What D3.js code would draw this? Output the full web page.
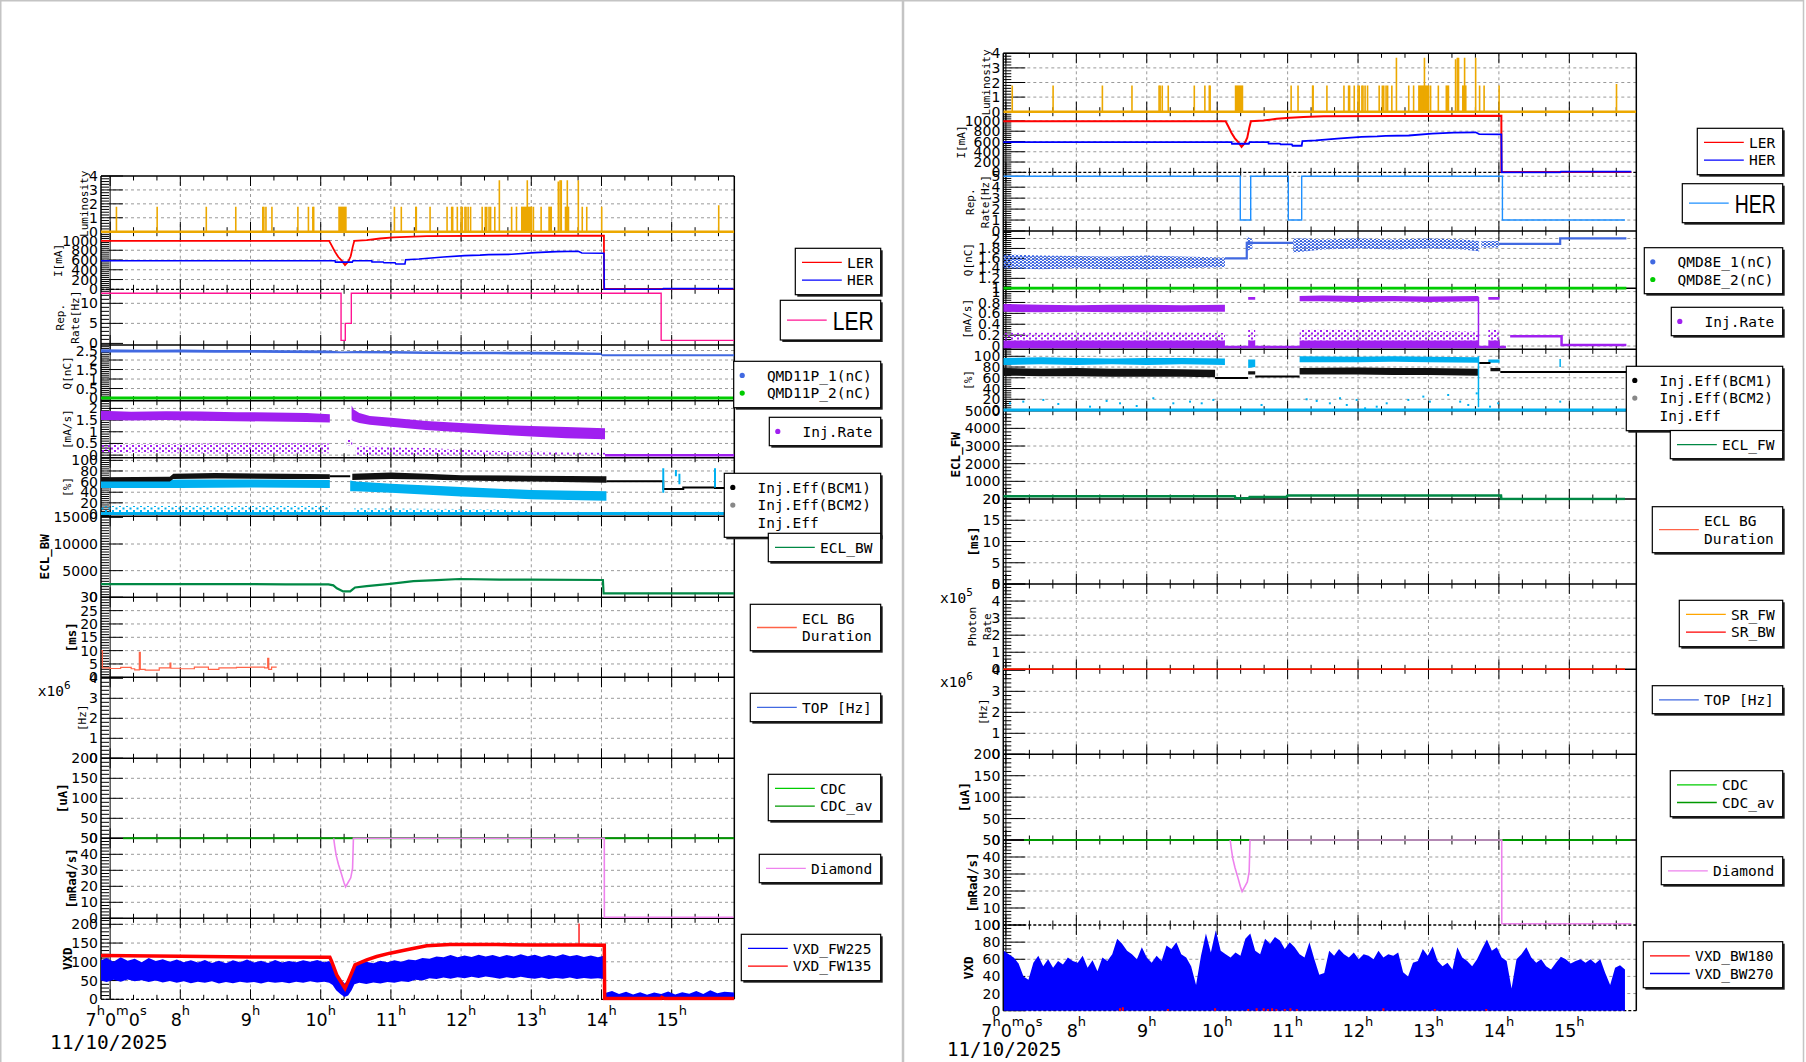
<!DOCTYPE html>
<html><head><meta charset="utf-8">
<script src="https://cdn.jsdelivr.net/npm/d3@7"></script>
<style>
body{margin:0;background:#fff}
svg{display:block}
.grid{stroke:#9a9a9a;stroke-dasharray:3 3;stroke-width:1;fill:none}
.tl{font-family:"DejaVu Sans",sans-serif;font-size:14px;fill:#000}
.tt{font-family:"DejaVu Sans Mono",monospace;font-size:11px;fill:#000}
.ttb{font-family:"DejaVu Sans Mono",monospace;font-size:12.5px;font-weight:bold;fill:#000}
.lg{font-family:"DejaVu Sans Mono",monospace;font-size:14.5px;fill:#000}
</style></head>
<body><svg id="c" width="1806" height="1062"></svg>
<script>
// ===================== DATA (time in decimal hours, 11/10/2025) =====================
const dateLabel = "11/10/2025";
const hourTicks = [7, 8, 9, 10, 11, 12, 13, 14, 15];

// Luminosity (shared by both canvases)
const lumSpikes = [[7.09,1.8],[7.67,1.8],[8.37,1.8],[8.79,1.8],[9.175,1.8],[9.19,1.8],[9.22,1.8],[9.305,1.8],[9.675,1.8],[9.825,1.8],[9.888,1.8],[9.9,1.8],
 [11.05,1.8],[11.148,1.8],[11.355,1.8],[11.362,1.8],[11.558,1.8],[11.8,1.8],[11.866,1.8],[11.88,1.8],[11.946,1.8],[12.0,1.8],[12.017,1.8],[12.055,1.8],[12.07,1.8],[12.1,1.8],[12.135,1.8],
 [12.3,1.8],[12.345,1.8],[12.365,1.8],[12.398,1.8],[12.42,1.8],[12.48,1.8],[12.545,3.7],[12.72,1.8],[12.943,3.7],[13.03,1.8],[13.14,1.8],[13.385,3.6],[13.41,3.7],[13.427,3.7],
 [13.513,3.7],[13.67,3.7],[13.726,1.8],[13.79,1.8],[14.003,1.8],[15.67,1.9]];
const lumBlocks = [[10.25,10.37,1.8],[12.778,12.8,1.8],[12.853,13.014,1.8],[13.242,13.295,1.8],[13.476,13.541,1.8]];

// Beam currents [mA]
const lerCurrent = [[6.87,993],[10.12,993],[10.157,896],[10.204,766],[10.251,662],[10.299,586],[10.346,497],[10.393,572],[10.427,676],[10.456,869],[10.479,993],
 [10.655,1007],[10.845,1041],[11.034,1062],[11.225,1076],[11.51,1090],[12.55,1097],[14.035,1100],[14.036,6],[14.9,6],[15.88,6]];
const herCurrent = [[6.87,586],[10.204,586],[10.21,556],[10.45,556],[10.46,586],[10.727,586],[10.73,560],[10.89,560],[10.9,545],[11.06,545],[11.07,517],[11.2,517],
 [11.21,607],[11.4,621],[11.75,662],[12.05,690],[12.27,700],[12.39,710],[12.72,717],[13.05,752],[13.36,772],[13.67,779],[13.72,745],[14.035,740],[14.04,0],[14.87,0],[14.88,14],[15.88,14]];

// Injection repetition rate [Hz]
const repLER = [[6.87,12.5],[10.29,0.75],[10.35,5],[10.436,12.5],[14.85,0.75],[15.892,0.75]];
const repHER = [[6.963,5],[10.328,1],[10.476,5],[11.01,1],[11.2,5],[14.05,1],[15.79,1]];

// Bunch charge [nC]  (bands = [t, low, high])
const qmd11p1Band = [[6.87,2.4,2.56],[7.5,2.39,2.54],[8.0,2.4,2.55],[8.5,2.38,2.53],[9.0,2.38,2.53],[9.5,2.37,2.52],[10.1,2.36,2.5],[10.3,2.36,2.45],[10.5,2.35,2.48],
 [11.0,2.34,2.47],[11.5,2.32,2.45],[12.0,2.3,2.44],[12.5,2.3,2.43],[13.0,2.29,2.44],[13.5,2.28,2.42],[14.0,2.26,2.38]];
const qmd11p1Tail = [[14.0,2.25],[15.892,2.25]];
const qmd11p2 = [[6.87,0],[15.892,0]];
const qmd8e1Band = [
 [[6.963,1.40,1.68],[7.5,1.38,1.66],[8.0,1.40,1.65],[8.5,1.38,1.64],[9.0,1.38,1.66],[9.5,1.40,1.64],[10.11,1.42,1.62]],
 [[10.42,1.75,2.04],[10.5,1.8,1.98]],
 [[11.08,1.72,2.0],[11.24,1.74,2.0],[11.5,1.78,1.98],[12.0,1.8,2.0],[12.5,1.78,1.98],[13.0,1.8,2.0],[13.5,1.78,1.98],[13.72,1.74,1.95]],
 [[13.75,1.82,1.95],[14.0,1.82,1.95]]];
const qmd8e1Line = [[10.11,1.6],[10.42,1.91],[11.08,1.91]];
const qmd8e1Tail = [[14.0,1.89],[14.87,2.0],[15.81,2.0]];
const qmd8e2 = [[6.963,0],[15.81,0]];

// Injection rate [mA/s]
const injRateL_dense = [
 [[6.87,1.5,1.9],[7.3,1.48,1.86],[7.8,1.5,1.88],[8.3,1.47,1.87],[8.8,1.45,1.84],[9.3,1.44,1.83],[9.8,1.42,1.8],[10.13,1.4,1.75]],
 [[10.44,1.5,2.12],[10.47,1.45,1.95],[10.55,1.38,1.8],[10.7,1.3,1.68],[11.0,1.22,1.6],[11.5,1.08,1.46],[12.0,0.98,1.38],[12.5,0.88,1.3],[13.0,0.8,1.25],[13.5,0.72,1.2],[14.05,0.68,1.15]]];
const injRateL_sparse = [
 [[6.87,0.1,0.45],[8.0,0.08,0.48],[9.0,0.06,0.52],[10.13,0.08,0.5]],
 [[10.37,0.42,0.66],[10.45,0.42,0.66]],
 [[10.5,0.0,0.38],[11.5,0.0,0.3],[12.5,0.0,0.18],[14.05,0.0,0.1]]];
const injRateL_tail = [[14.05,0.0],[15.892,0.0]];
const injRateR_upper = [
 [[6.963,0.63,0.77],[7.5,0.62,0.76],[8.0,0.63,0.75],[8.5,0.62,0.76],[9.0,0.62,0.76],[9.5,0.63,0.75],[10.11,0.63,0.76]],
 [[10.44,0.85,0.9],[10.54,0.85,0.9]],
 [[11.17,0.82,0.92],[11.5,0.82,0.93],[12.0,0.81,0.92],[12.5,0.82,0.92],[13.0,0.81,0.91],[13.71,0.82,0.92]],
 [[13.85,0.85,0.9],[14.01,0.85,0.9]]];
const injRateR_dense = [[[6.963,0,0.1],[10.11,0,0.1]],[[10.44,0,0.1],[10.54,0,0.1]],[[11.17,0,0.1],[13.71,0,0.1]],[[13.85,0,0.1],[14.01,0,0.1]]];
const injRateR_sparse = [[[6.963,0.1,0.24],[8.0,0.1,0.25],[9.0,0.1,0.26],[10.11,0.1,0.24]],[[10.44,0.1,0.3],[10.54,0.1,0.3]],
 [[11.17,0.1,0.3],[12.0,0.1,0.3],[13.0,0.1,0.28],[13.71,0.1,0.26]],[[13.85,0.1,0.3],[14.01,0.1,0.3]]];
const injRateR_zero = [[6.963,-0.02],[14.1,-0.02]];
const injRateR_tail = [[14.16,0.18],[14.89,0.02],[15.81,0.02]];

// Injection efficiency [%]
const effBCM1L = [[[6.87,60,68],[7.85,60,69],[7.9,65,75],[8.5,66,76],[9.5,65,75],[10.13,65,74]],
 [[10.45,63,75],[11.0,65,77],[11.5,64,75],[12.0,62,72],[13.0,60,71],[14.07,58,70]]];
const effBCM1L_lines = [[[10.13,70],[10.42,70]]];
const effBCM1L_tail = [[14.07,60.5],[14.88,46],[15.165,49],[15.617,48],[15.892,48]];
const effBCM2L = [[[6.87,48,62],[8.0,48,64],[9.0,49,64],[10.13,48,63]],
 [[10.42,42,62],[10.5,42,60],[11.0,39,56],[12.0,32,50],[13.0,27,44],[14.07,24,42]]];
const effBCM2L_low = [[[6.87,2,14],[10.13,2,14]],[[10.48,1,10],[12.5,1,8],[13.0,1,4]]];
const effSpikesL = [[14.88,39,85],[15.06,70,82],[15.11,55,75],[15.617,49,85]];
const effZeroL = [[6.87,0],[15.892,0]];
const effBCM2R = [[[6.963,84,97],[7.5,85,98],[8.0,84,97],[8.5,85,96],[9.0,84,97],[9.5,85,97],[10.11,84,96]],[[10.44,78,94],[10.54,80,94]],
 [[11.17,89,100],[12.0,89,99],[12.5,90,100],[13.0,89,99],[13.71,88,98]],[[13.85,88,94],[14.01,88,94]]];
const effBCM1R = [[[6.963,64,78],[7.5,63,77],[8.0,63,78],[8.5,62,77],[9.0,62,77],[9.5,62,76],[9.97,61,75]],[[10.44,66,72],[10.54,66,72]],
 [[11.17,66,78],[12.0,66,79],[12.5,65,78],[13.0,65,78],[13.71,64,77]],[[13.88,72,78],[14.02,72,78]]];
const effBCM1R_lines = [[[9.97,59.4],[10.44,59.4]],[[10.54,62.5],[11.17,62.5]],[[13.72,87.5],[13.88,87.5]],[[14.02,70.6],[15.81,70.6]]];
const effBCM2R_dots = [[7.058,12.5],[7.247,15.6],[7.531,18.75],[7.744,11.25],[8.194,6.25],[8.43,16.9],[8.62,12.5],[8.857,7.5],[9.093,21.9],[9.377,12.5],
 [9.614,15.6],[9.78,12.5],[9.945,18.75],[10.63,9.4],[11.27,20],[11.413,16.9],[11.6,12.5],[11.744,21.9],[11.84,9.4],[11.98,18.75],[12.1,3.1],[12.265,6.25],
 [12.407,12.5],[12.714,18.75],[12.927,25],[13.02,15.6],[13.28,28],[13.45,15.6],[13.565,9.4],[13.685,31],[13.874,6.25],[13.99,12.5],[14.87,15.6]];
const effSpikesR = [[13.71,5,100],[14.87,80,95]];
const effZeroR = [[6.963,0],[15.81,0]];

// ECL
const eclBW = [[6.87,2480],[8.0,2480],[9.0,2460],[9.5,2430],[10.11,2420],[10.18,2240],[10.23,1700],[10.32,1100],[10.42,1100],[10.455,1500],[10.49,1850],
 [10.655,2100],[10.987,2530],[11.32,3040],[11.65,3240],[11.98,3430],[12.55,3330],[13.0,3300],[14.02,3250],[14.03,720],[15.892,720]];
const eclFW = [[6.963,150],[8.0,160],[9.0,150],[10.25,150],[10.26,40],[10.45,40],[10.46,118],[10.98,118],[11.0,196],[14.03,196],[14.035,5],[15.79,5]];
const eclDurL = [[6.875,10],[6.89,3.5],[7.0,3.3],[7.15,3.7],[7.3,3.2],[7.35,2.8],[7.416,9.4],[7.43,3.0],[7.5,2.7],[7.7,3.5],[7.853,5.3],[7.865,3.4],
 [8.0,3.2],[8.2,3.8],[8.4,3.0],[8.55,3.5],[8.8,3.7],[9.0,3.8],[9.2,3.5],[9.245,7.1],[9.26,3.0],[9.3,3.8],[9.373,3.8]];

// SR photon rate, CDC, Diamond
const srBW = [[6.963,0],[15.79,0]];
const cdcL = [[7.184,0],[15.892,0]];
const cdcR = [[7.257,0],[15.87,0]];
const diamond = [[10.185,50],[10.2,45],[10.222,39],[10.252,33.8],[10.293,28],[10.33,22.5],[10.354,19.7],[10.394,22.7],[10.428,25.3],[10.454,31.3],[10.466,50],[14.04,50],[14.041,0.7],[15.88,0.7]];

// VXD
const vxdFW135 = [[6.87,117],[8.0,115],[9.0,113],[10.13,112],[10.156,101],[10.228,65],[10.346,29],[10.441,70],[10.489,92],[10.655,105],[10.798,114],[10.987,123],
 [11.225,132],[11.51,143],[11.84,146],[12.5,146],[13.0,145],[13.68,145],[14.04,144],[14.045,2],[14.85,2],[14.86,5],[14.9,2],[15.892,2]];
const vxdFW135Spike = [[13.68,145,202]];
const vxdFW225 = [[6.87,50,104],[6.95,46,110],[7.05,52,100],[7.15,47,112],[7.25,53,103],[7.35,48,108],[7.45,51,99],[7.55,46,110],[7.65,50,102],[7.75,45,107],
 [7.85,49,100],[7.95,44,106],[8.05,48,99],[8.15,43,104],[8.25,47,98],[8.35,44,105],[8.45,48,97],[8.55,42,103],[8.65,46,96],[8.75,43,104],[8.85,47,99],[8.95,44,106],
 [9.05,46,98],[9.15,42,103],[9.25,47,97],[9.35,44,105],[9.45,46,98],[9.55,43,102],[9.65,47,99],[9.75,44,104],[9.85,48,100],[9.95,45,105],[10.05,47,99],[10.12,44,102],
 [10.17,38,90],[10.22,24,72],[10.28,14,55],[10.34,6,42],[10.39,10,50],[10.44,24,70],[10.48,40,90],[10.55,44,97],[10.65,41,100],[10.75,45,96],[10.85,42,103],
 [10.95,46,99],[11.05,44,104],[11.15,48,100],[11.25,46,106],[11.35,52,104],[11.45,50,110],[11.55,56,108],[11.65,54,114],[11.75,58,112],[11.85,55,118],[11.95,59,112],
 [12.05,56,117],[12.15,60,113],[12.25,57,119],[12.35,61,114],[12.45,58,118],[12.55,55,113],[12.65,59,118],[12.75,56,114],[12.85,60,120],[12.95,57,115],[13.05,55,119],
 [13.15,58,113],[13.25,54,118],[13.35,57,114],[13.45,55,120],[13.55,58,115],[13.65,54,118],[13.75,57,113],[13.85,55,117],[13.95,56,112],[14.03,54,116]];
const vxdFW225Tail = [[14.04,0,16],[14.15,0,22],[14.25,0,14],[14.35,0,20],[14.45,0,13],[14.55,0,19],[14.65,0,12],[14.75,0,18],[14.85,0,14],[14.95,0,21],
 [15.05,0,13],[15.15,0,19],[15.25,0,15],[15.35,0,22],[15.45,0,14],[15.55,0,24],[15.65,0,16],[15.75,0,20],[15.892,0,18]];
const vxdBW270Start = 6.97, vxdBW270Step = 0.07;
const vxdBW270 = [70,66,62,55,40,36,56,64,52,60,50,58,54,62,58,56,64,50,59,46,62,58,66,84,78,70,66,60,74,62,56,64,58,76,72,80,66,62,52,30,
 64,90,68,94,70,66,62,68,64,84,90,70,66,84,78,86,82,72,80,74,66,62,80,60,42,44,70,64,72,66,62,68,60,66,64,60,70,62,66,64,68,45,40,56,58,72,
 64,75,58,52,56,48,74,62,58,52,60,72,83,70,74,62,58,26,60,66,74,62,56,60,52,48,56,63,60,55,58,60,56,60,55,60,44,30,50,53,48];
const vxdBW180 = [[8.62,3],[8.66,4],[9.3,2],[9.97,3],[10.44,2],[10.56,3],[10.66,3],[10.72,2],[10.78,3],[10.84,2],[10.96,2],[11.04,3],[11.13,2],[12.36,3],[13.09,2],[13.82,2]];

// Legend labels
const legendsLeft = [
 {box:[795.3,248.3,880.7,294.7], rows:[["LER","#ff0000","line"],["HER","#0000ff","line"]]},
 {box:[780.3,300.3,880.7,340], big:"LER", c:"#ff1493"},
 {box:[733.7,361.3,880.7,407.7], rows:[["QMD11P_1(nC)","#4169e1","dot"],["QMD11P_2(nC)","#00cc00","dot"]]},
 {box:[769.3,417.3,880.7,445.7], rows:[["Inj.Rate","#a020f0","dot"]]},
 {box:[724.3,473.3,880.7,537.3], rows:[["Inj.Eff(BCM1)","#000000","dot"],["Inj.Eff(BCM2)","#888888","dot"],["Inj.Eff","none","none"]]},
 {box:[768.3,533.3,880.7,561.7], rows:[["ECL_BW","#008844","line"]]},
 {box:[750.3,604.3,880.7,650.7], two:["ECL BG","Duration"], c:"#ff6347"},
 {box:[750.3,693.3,880.7,721.7], rows:[["TOP [Hz]","#4169e1","line"]]},
 {box:[768.3,774.3,880.7,820.7], rows:[["CDC","#00cc00","line"],["CDC_av","#009900","line"]]},
 {box:[759.3,854.3,880.7,882.7], rows:[["Diamond","#ee82ee","line"]]},
 {box:[741.3,934.3,880.7,980.7], rows:[["VXD_FW225","#0000ff","line"],["VXD_FW135","#ff0000","line"]]}];
const legendsRight = [
 {box:[1697.3,128.3,1782.7,174.7], rows:[["LER","#ff0000","line"],["HER","#0000ff","line"]]},
 {box:[1682.3,183.7,1782.7,222.7], big:"HER", c:"#1e90ff"},
 {box:[1644.3,247.7,1782.7,293.7], rows:[["QMD8E_1(nC)","#4169e1","dot"],["QMD8E_2(nC)","#00cc00","dot"]]},
 {box:[1671.3,307.3,1782.7,335.7], rows:[["Inj.Rate","#a020f0","dot"]]},
 {box:[1626.3,366.3,1782.7,430.7], rows:[["Inj.Eff(BCM1)","#000000","dot"],["Inj.Eff(BCM2)","#888888","dot"],["Inj.Eff","none","none"]]},
 {box:[1670.3,430.5,1782.7,458.7], rows:[["ECL_FW","#008844","line"]]},
 {box:[1652.3,506.7,1782.7,552.7], two:["ECL BG","Duration"], c:"#ff6347"},
 {box:[1679.3,600.3,1782.7,646.7], rows:[["SR_FW","#ffa500","line"],["SR_BW","#ff0000","line"]]},
 {box:[1652.3,685.7,1782.7,713.7], rows:[["TOP [Hz]","#4169e1","line"]]},
 {box:[1670.3,770.7,1782.7,816.7], rows:[["CDC","#00cc00","line"],["CDC_av","#009900","line"]]},
 {box:[1661.3,856.7,1782.7,884.7], rows:[["Diamond","#ee82ee","line"]]},
 {box:[1643.3,941.7,1782.7,987.7], rows:[["VXD_BW180","#ff0000","line"],["VXD_BW270","#0000ff","line"]]}];

// ===================== DRAWING =====================
const svg = d3.select("#c");
svg.append("rect").attr("width",1806).attr("height",1062).attr("fill","#fff");
const defs = svg.append("defs");
const gGrid = svg.append("g"), gAxis = svg.append("g"), gData = svg.append("g"), gText = svg.append("g"), gLeg = svg.append("g");

// canvas borders
svg.append("path").attr("d","M0.75,1062V0.75H902.5V1062").attr("fill","none").attr("stroke","#c4c4c4").attr("stroke-width",1.5);
svg.append("path").attr("d","M903.5,1062V0.75H1803.5V1062").attr("fill","none").attr("stroke","#c4c4c4").attr("stroke-width",1.5);

function makePattern(id, color, w, h, dots) {
  const p = defs.append("pattern").attr("id",id).attr("patternUnits","userSpaceOnUse").attr("width",w).attr("height",h);
  dots.forEach(d => p.append("rect").attr("x",d[0]).attr("y",d[1]).attr("width",2).attr("height",2).attr("fill",color));
  return `url(#${id})`;
}
const patPurple = makePattern("pp","#a020f0",6,5,[[0,0],[3,2.5]]);
const patCyan = makePattern("pc","#00b0f0",7,5,[[0,0],[3.5,2.5]]);
const patBlue = makePattern("pb","#4169e1",4,3,[[0,0],[2,1.5]]);

const LEFT = {name:"L", x:d3.scaleLinear().domain([6.87,15.892]).range([101,734.3]), left:101, right:734.3,
  rows:[176,231.7,289.3,345,400.7,457.7,516.3,597.3,677.3,758.3,838.3,918.3,999.3], dashed:[2,12]};
const RIGHT = {name:"R", x:d3.scaleLinear().domain([6.963,15.951]).range([1003.3,1636.3]), left:1003.3, right:1636.3,
  rows:[53.3,111.7,172.3,231,288.3,349.3,410.7,499,584,669.3,754.3,840,925,1010.7], dashed:[2,12,13]};

const fmt = d3.format(".6~g");
function panel(side, i, domain, ticks) {
  const top = side.rows[i], bottom = side.rows[i+1];
  const y = d3.scaleLinear().domain(domain).range([bottom, top]);
  const id = `clip${side.name}${i}`;
  defs.append("clipPath").attr("id",id).append("rect").attr("x",side.left).attr("y",top-1.5)
    .attr("width",side.right-side.left).attr("height",bottom-top+3);
  const p = {x:side.x, y, top, bottom, left:side.left, right:side.right, clip:`url(#${id})`};
  ticks.forEach(v => { const yy = y(v); if (yy > top+2 && yy < bottom-2)
    gGrid.append("line").attr("class","grid").attr("x1",side.left).attr("x2",side.right).attr("y1",yy).attr("y2",yy); });
  hourTicks.forEach(h => { const xx = side.x(h);
    if (h === 7) gAxis.append("line").attr("x1",xx).attr("x2",xx).attr("y1",top).attr("y2",bottom).attr("stroke","#000").attr("stroke-width",1);
    else gGrid.append("line").attr("class","grid").attr("x1",xx).attr("x2",xx).attr("y1",top).attr("y2",bottom); });
  const step = ticks[1]-ticks[0];
  const px = Math.abs(y(ticks[1]) - y(ticks[0]));
  const sub = px >= 24 ? 10 : 5;
  const ms = step/sub;
  const k0 = Math.ceil(domain[0]/ms - 1e-6), k1 = Math.floor(domain[1]/ms + 1e-6);
  for (let k = k0; k <= k1; k++) {
    const v = k*ms; const yy = y(v);
    const major = (k % sub === 0);
    gAxis.append("line").attr("x1",side.left).attr("x2",side.left + (major ? 22 : 8)).attr("y1",yy).attr("y2",yy)
      .attr("stroke","#000").attr("stroke-width",1);
  }
  ticks.forEach(v => gText.append("text").attr("class","tl").attr("x",side.left-3).attr("y",y(v)).attr("dy","0.36em")
    .attr("text-anchor","end").text(fmt(v)));
  const t0 = side.x.domain()[0], t1 = side.x.domain()[1];
  for (let m = Math.ceil(t0*3 - 1e-6); m <= Math.floor(t1*3 + 1e-6); m++) {
    const xx = side.x(m/3), L = (m % 3 === 0) ? 10 : 4.5;
    gAxis.append("line").attr("x1",xx).attr("x2",xx).attr("y1",bottom).attr("y2",bottom-L).attr("stroke","#000");
    gAxis.append("line").attr("x1",xx).attr("x2",xx).attr("y1",top).attr("y2",top+L).attr("stroke","#000");
  }
  return p;
}
function frames(side) {
  const r = side.rows;
  [side.left, side.right].forEach(xx => gAxis.append("line").attr("x1",xx).attr("x2",xx).attr("y1",r[0]).attr("y2",r[r.length-1])
    .attr("stroke","#000").attr("stroke-width",1.5));
  r.forEach((yy, i) => { const l = gAxis.append("line").attr("x1",side.left).attr("x2",side.right).attr("y1",yy).attr("y2",yy)
    .attr("stroke","#000").attr("stroke-width",1.5);
    if (side.dashed.includes(i)) l.attr("stroke-dasharray","3 2").attr("stroke-width",1.3); });
}
function title(lines, xs, p, cls) {
  const yc = (p.top + p.bottom)/2;
  lines.forEach((s, j) => gText.append("text").attr("class",cls||"tt").attr("transform",`translate(${xs[j]},${yc}) rotate(-90)`)
    .attr("text-anchor","middle").attr("dominant-baseline","central").text(s));
}
function lineP(p, data, color, w, curve, dash) {
  const gen = d3.line().x(d => p.x(d[0])).y(d => p.y(d[1])).curve(curve || d3.curveLinear);
  const path = gData.append("path").attr("d",gen(data)).attr("fill","none").attr("stroke",color).attr("stroke-width",w).attr("clip-path",p.clip);
  if (dash) path.attr("stroke-dasharray",dash);
}
function bandP(p, segs, fill, curve) {
  const gen = d3.area().x(d => p.x(d[0])).y0(d => p.y(d[1])).y1(d => p.y(d[2])).curve(curve || d3.curveLinear);
  segs.forEach(s => gData.append("path").attr("d",gen(s)).attr("fill",fill).attr("clip-path",p.clip));
}
function vlines(p, arr, color, w) {
  arr.forEach(d => gData.append("line").attr("x1",p.x(d[0])).attr("x2",p.x(d[0])).attr("y1",p.y(d[1])).attr("y2",p.y(d[2]))
    .attr("stroke",color).attr("stroke-width",w).attr("clip-path",p.clip));
}
function dots(p, arr, color, r) {
  arr.forEach(d => gData.append("rect").attr("x",p.x(d[0])-r).attr("y",p.y(d[1])-r).attr("width",2*r).attr("height",2*r)
    .attr("fill",color).attr("clip-path",p.clip));
}
function lumPanel(p) {
  lineP(p, [[p.x.domain()[0],0],[p.x.domain()[1],0]], "#eca800", 2.5);
  lumBlocks.forEach(b => gData.append("rect").attr("x",p.x(b[0])).attr("width",Math.max(1.5,p.x(b[1])-p.x(b[0])))
    .attr("y",p.y(b[2])).attr("height",p.y(0)-p.y(b[2])).attr("fill","#eca800").attr("clip-path",p.clip));
  vlines(p, lumSpikes.map(s => [s[0],0,s[1]]), "#eca800", 1.6);
}
function xLabels(side, base) {
  hourTicks.forEach(h => {
    const t = gText.append("text").attr("x", side.x(h) + (h === 7 ? 6 : 0)).attr("y", base).attr("text-anchor","middle")
      .style("font-family","DejaVu Sans, sans-serif").style("font-size","17.5px");
    const sup = (s) => t.append("tspan").attr("dy",-11).style("font-size","13px").text(s);
    const nor = (s) => t.append("tspan").attr("dy",11).text(s);
    t.append("tspan").text(String(h)); sup("h");
    if (h === 7) { nor("0"); sup("m"); nor("0"); sup("s"); }
  });
}
function expLabel(x, base, e) {
  const t = gText.append("text").attr("x",x).attr("y",base).style("font-family","DejaVu Sans Mono, monospace").style("font-size","14.5px");
  t.append("tspan").text("x10");
  t.append("tspan").attr("dy",-7).style("font-size","11px").text(e);
}
function legend(L) {
  const [x0,y0,x1,y1] = L.box;
  gLeg.append("rect").attr("x",x0+2).attr("y",y0+2).attr("width",x1-x0).attr("height",y1-y0).attr("fill","#222");
  gLeg.append("rect").attr("x",x0).attr("y",y0).attr("width",x1-x0).attr("height",y1-y0).attr("fill","#fff").attr("stroke","#000").attr("stroke-width",1.2);
  const ym = (y0+y1)/2;
  if (L.big) {
    gLeg.append("line").attr("x1",x0+6.7).attr("x2",x0+46.4).attr("y1",ym).attr("y2",ym).attr("stroke",L.c).attr("stroke-width",1.3);
    gLeg.append("text").attr("x",x0+52.4).attr("y",ym).attr("dy","0.36em")
      .attr("textLength",41).attr("lengthAdjust","spacingAndGlyphs")
      .style("font-family","Liberation Sans, Arial, sans-serif").style("font-size","26.5px").text(L.big);
    return;
  }
  if (L.two) {
    gLeg.append("line").attr("x1",x0+6.7).attr("x2",x0+46.5).attr("y1",ym).attr("y2",ym).attr("stroke",L.c).attr("stroke-width",1.3);
    L.two.forEach((s,i) => gLeg.append("text").attr("class","lg").attr("x",x0+51.7).attr("y",y0+14.1+17.7*i).attr("dy","0.36em").text(s));
    return;
  }
  L.rows.forEach((r,i) => {
    const yy = y0 + 14.1 + 17.7*i;
    if (r[2] === "line") {
      gLeg.append("line").attr("x1",x0+6.7).attr("x2",x0+46.5).attr("y1",yy).attr("y2",yy).attr("stroke",r[1]).attr("stroke-width",1.3);
      gLeg.append("text").attr("class","lg").attr("x",x0+51.7).attr("y",yy).attr("dy","0.36em").text(r[0]);
    } else {
      if (r[2] === "dot") gLeg.append("circle").attr("cx",x0+8.5).attr("cy",yy).attr("r",2.6).attr("fill",r[1]);
      gLeg.append("text").attr("class","lg").attr("x",x0+33.2).attr("y",yy).attr("dy","0.36em").text(r[0]);
    }
  });
}

// ---------- LEFT canvas ----------
{
  const S = LEFT;
  const pLum = panel(S,0,[0,4],[0,1,2,3,4]);
  const pI = panel(S,1,[0,1180],[0,200,400,600,800,1000]);
  const pRep = panel(S,2,[-0.4,13.5],[0,5,10]);
  const pQ = panel(S,3,[-0.14,2.79],[0,0.5,1,1.5,2,2.5]);
  const pInj = panel(S,4,[-0.11,2.33],[0,0.5,1,1.5,2]);
  const pEff = panel(S,5,[-5.3,105],[0,20,40,60,80,100]);
  const pEcl = panel(S,6,[0,15200],[0,5000,10000,15000]);
  const pMs = panel(S,7,[0,30],[0,5,10,15,20,25,30]);
  const pHz = panel(S,8,[0,4.05],[0,1,2,3,4]);
  const pUA = panel(S,9,[0,200],[0,50,100,150,200]);
  const pRad = panel(S,10,[0,50],[0,10,20,30,40,50]);
  const pVxd = panel(S,11,[0,216],[0,50,100,150,200]);
  frames(S);

  lumPanel(pLum);
  lineP(pI, lerCurrent, "#ff0000", 1.8);
  lineP(pI, herCurrent, "#0000ff", 1.6);
  lineP(pRep, repLER, "#ff1493", 1.4, d3.curveStepAfter);
  bandP(pQ, [qmd11p1Band], "#4169e1");
  lineP(pQ, qmd11p1Tail, "#4169e1", 2.2);
  lineP(pQ, qmd11p2, "#00cc00", 3);
  bandP(pInj, injRateL_sparse, patPurple);
  bandP(pInj, injRateL_dense, "#a020f0");
  lineP(pInj, injRateL_tail, "#a020f0", 2.5);
  bandP(pEff, effBCM2L_low, patCyan);
  bandP(pEff, effBCM2L, "#00b0f0");
  bandP(pEff, effBCM1L, "#111");
  effBCM1L_lines.forEach(s => lineP(pEff, s, "#000", 2));
  lineP(pEff, effBCM1L_tail, "#000", 2, d3.curveStepAfter);
  vlines(pEff, effSpikesL, "#00b0f0", 2);
  lineP(pEff, effZeroL, "#00b0f0", 3);
  lineP(pEcl, eclBW, "#008844", 2.2);
  lineP(pMs, eclDurL, "#ff6347", 1.2, d3.curveStepAfter);
  lineP(pUA, cdcL, "#009900", 2);
  lineP(pRad, diamond, "#ee82ee", 1.6);
  bandP(pVxd, [vxdFW225, vxdFW225Tail], "#0000ff");
  lineP(pVxd, vxdFW135, "#ff0000", 3.5);
  vlines(pVxd, vxdFW135Spike, "#ff0000", 1.3);

  title(["Luminosity"],[84],pLum);
  title(["I[mA]"],[58.5],pI);
  title(["Rep.","Rate[Hz]"],[60,75],pRep);
  title(["Q[nC]"],[67],pQ);
  title(["[mA/s]"],[67],pInj);
  title(["[%]"],[67],pEff);
  title(["ECL_BW"],[44.5],pEcl,"ttb");
  title(["[ms]"],[71],pMs,"ttb");
  title(["[Hz]"],[82],pHz);
  title(["[uA]"],[62],pUA,"ttb");
  title(["[mRad/s]"],[71],pRad,"ttb");
  title(["VXD"],[67],pVxd,"ttb");
  expLabel(37.7, 696, "6");
  xLabels(S, 1026);
  gText.append("text").attr("x",50).attr("y",1049).style("font-family","DejaVu Sans Mono, monospace").style("font-size","19.5px").text(dateLabel);
  legendsLeft.forEach(legend);
}

// ---------- RIGHT canvas ----------
{
  const S = RIGHT;
  const pLum = panel(S,0,[0,4],[0,1,2,3,4]);
  const pI = panel(S,1,[0,1180],[0,200,400,600,800,1000]);
  const pRep = panel(S,2,[0,5.36],[0,1,2,3,4,5]);
  const pQ = panel(S,3,[1.0,2.15],[1,1.2,1.4,1.6,1.8,2]);
  const pInj = panel(S,4,[-0.06,1.06],[0,0.2,0.4,0.6,0.8,1]);
  const pEff = panel(S,5,[-1.25,113],[0,20,40,60,80,100]);
  const pEcl = panel(S,6,[0,5000],[0,1000,2000,3000,4000,5000]);
  const pMs = panel(S,7,[0,20],[0,5,10,15,20]);
  const pPh = panel(S,8,[0,5],[0,1,2,3,4,5]);
  const pHz = panel(S,9,[0,4.05],[0,1,2,3,4]);
  const pUA = panel(S,10,[0,200],[0,50,100,150,200]);
  const pRad = panel(S,11,[0,50],[0,10,20,30,40,50]);
  const pVxd = panel(S,12,[0,100],[0,20,40,60,80,100]);
  frames(S);

  lumPanel(pLum);
  lineP(pI, lerCurrent, "#ff0000", 2);
  lineP(pI, herCurrent, "#0000ff", 1.8);
  lineP(pRep, repHER, "#1e90ff", 1.4, d3.curveStepAfter);
  bandP(pQ, qmd8e1Band, patBlue);
  lineP(pQ, qmd8e1Line, "#4169e1", 2.2, d3.curveStepAfter);
  lineP(pQ, qmd8e1Tail, "#4169e1", 2.2, d3.curveStepAfter);
  const yQc = pQ.y.copy().clamp(true);
  lineP({...pQ, y:yQc}, qmd8e2, "#00cc00", 3);
  bandP(pInj, injRateR_sparse, patPurple);
  bandP(pInj, injRateR_dense, "#a020f0");
  bandP(pInj, injRateR_upper, "#a020f0");
  lineP(pInj, injRateR_zero, "#a020f0", 2.5);
  lineP(pInj, injRateR_tail, "#a020f0", 2.5, d3.curveStepAfter);
  vlines(pInj, [[13.71,0,0.9]], "#a020f0", 1.5);
  dots(pEff, effBCM2R_dots, "#00b0f0", 1);
  bandP(pEff, effBCM2R, "#00b0f0");
  bandP(pEff, effBCM1R, "#111");
  effBCM1R_lines.forEach(s => lineP(pEff, s, "#000", 2));
  vlines(pEff, effSpikesR, "#00b0f0", 1.5);
  lineP(pEff, effZeroR, "#00b0f0", 3);
  lineP(pEcl, eclFW, "#008844", 2.5);
  lineP(pPh, srBW, "#ffa500", 1.5);
  lineP(pPh, srBW, "#ff0000", 1.5);
  lineP(pUA, cdcR, "#009900", 2);
  lineP(pRad, diamond, "#ee82ee", 1.6);
  const bw270 = vxdBW270.map((v,i) => [vxdBW270Start + i*vxdBW270Step, 0, v]);
  bandP(pVxd, [bw270], "#0000ff");
  vlines(pVxd, vxdBW180.map(d => [d[0],0,d[1]]), "#ff0000", 2);

  title(["Luminosity"],[986],pLum);
  title(["I[mA]"],[961],pI);
  title(["Rep.","Rate[Hz]"],[970,985],pRep);
  title(["Q[nC]"],[968],pQ);
  title(["[mA/s]"],[967],pInj);
  title(["[%]"],[968],pEff);
  title(["ECL_FW"],[955],pEcl,"ttb");
  title(["[ms]"],[973],pMs,"ttb");
  title(["Photon","Rate"],[972,987],pPh);
  title(["[Hz]"],[983.5],pHz);
  title(["[uA]"],[964],pUA,"ttb");
  title(["[mRad/s]"],[972.5],pRad,"ttb");
  title(["VXD"],[968.7],pVxd,"ttb");
  expLabel(940, 602.7, "5");
  expLabel(940, 686.7, "6");
  xLabels(S, 1036.7);
  gText.append("text").attr("x",947).attr("y",1056).style("font-family","DejaVu Sans Mono, monospace").style("font-size","19px").text(dateLabel);
  legendsRight.forEach(legend);
}
</script></body></html>
